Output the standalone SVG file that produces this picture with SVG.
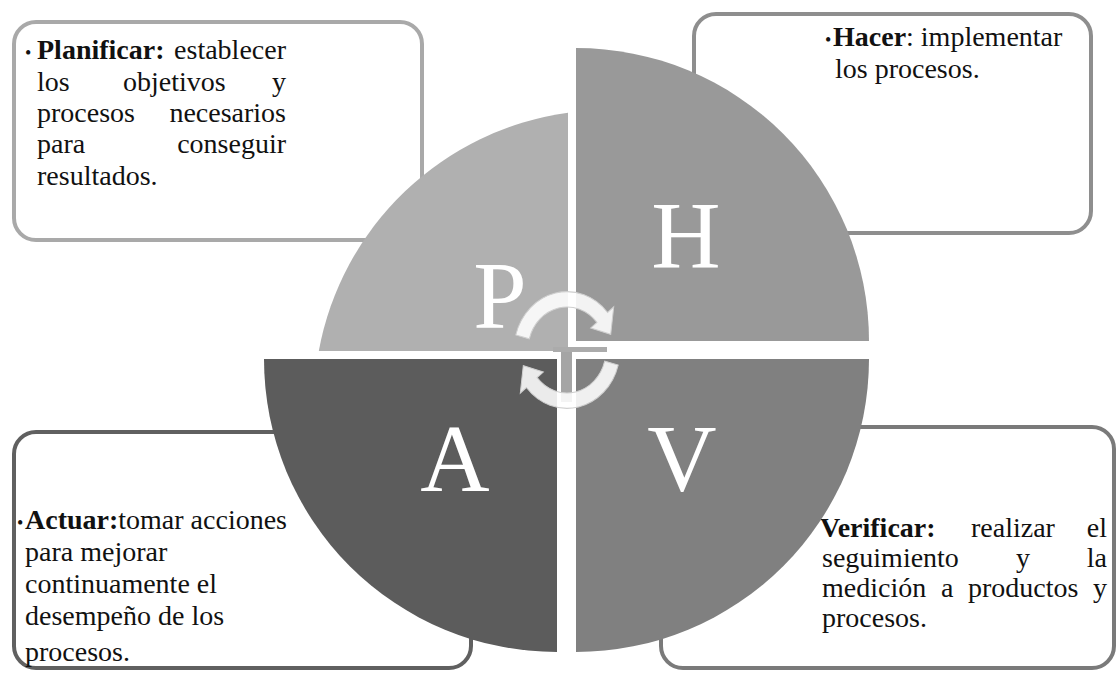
<svg xmlns="http://www.w3.org/2000/svg" width="1117" height="675" viewBox="0 0 1117 675">
<defs>
<style>
.box{fill:#fff;stroke-width:4}
.t{font-family:"Liberation Serif","Times New Roman",serif;font-size:28px;fill:#111}
.b{font-weight:bold}
.bul{font-size:18px}
.end{text-anchor:end}
.big{font-family:"Liberation Serif","Times New Roman",serif;font-size:96px;fill:#fff;text-anchor:middle}
.arr{fill:#fff;fill-opacity:0.88;stroke:#cfcfcf;stroke-width:1}
</style>
<path id="cyc" d="M -51.2 -13.7 A 53 53 0 0 1 40.6 -34.1 L 46.7 -39.2 L 43.7 -14.2 L 23.7 -19.9 L 29.9 -25.1 A 39 39 0 0 0 -37.7 -10.1 Z"/>
</defs>
<rect width="1117" height="675" fill="#fff"/>

<g id="node-planificar">
<rect class="box" x="14" y="22" width="408" height="218" rx="22" stroke="#a9a9a9"/>
<text class="t" y="59"><tspan x="25" class="bul">•</tspan><tspan x="37" class="b">Planificar:</tspan></text>
<text class="t end" x="286" y="59">establecer</text>
<text class="t" y="91"><tspan x="37">los</tspan><tspan x="123">objetivos</tspan></text>
<text class="t end" x="286" y="91">y</text>
<text class="t" x="37" y="122">procesos</text>
<text class="t end" x="286" y="122">necesarios</text>
<text class="t" x="37" y="153">para</text>
<text class="t end" x="286" y="153">conseguir</text>
<text class="t" x="37" y="185">resultados.</text>
</g>

<g id="node-hacer">
<rect class="box" x="694" y="14" width="397" height="219" rx="22" stroke="#8e8e8e"/>
<text class="t" y="46"><tspan x="825" class="bul">•</tspan><tspan x="833" class="b">Hacer</tspan><tspan>: implementar</tspan></text>
<text class="t" x="835" y="78">los procesos.</text>
</g>

<g id="node-actuar">
<rect class="box" x="14" y="432" width="457" height="236" rx="22" stroke="#606060"/>
<text class="t" y="529"><tspan x="17" class="bul">•</tspan><tspan x="25" class="b">Actuar:</tspan><tspan>tomar acciones</tspan></text>
<text class="t" x="25" y="561">para mejorar</text>
<text class="t" x="25" y="593">continuamente el</text>
<text class="t" x="25" y="625">desempeño de los</text>
<text class="t" x="25" y="661">procesos.</text>
</g>

<g id="node-verificar">
<rect class="box" x="661" y="427" width="453" height="241" rx="22" stroke="#7a7a7a"/>
<text class="t" y="537"><tspan x="820" class="b">Verificar:</tspan><tspan x="971">realizar</tspan></text>
<text class="t end" x="1107" y="537">el</text>
<text class="t" y="567"><tspan x="822">seguimiento</tspan><tspan x="1016">y</tspan></text>
<text class="t end" x="1107" y="567">la</text>
<text class="t" y="597"><tspan x="822">medición</tspan><tspan x="941">a</tspan><tspan x="968">productos</tspan></text>
<text class="t end" x="1107" y="597">y</text>
<text class="t" x="822" y="627">procesos.</text>
</g>

<g id="node-p">
<path d="M 568 351 L 318.8 351 A 294 294 0 0 1 568 112.7 Z" fill="#b0b0b0"/>
<text class="big" x="500" y="328">P</text>
</g>
<g id="node-h">
<path d="M 576 341 L 576 48 A 293 293 0 0 1 869 341 Z" fill="#999999"/>
<text class="big" x="686" y="268">H</text>
</g>
<g id="node-v">
<path d="M 576 359 L 869 359 A 293 293 0 0 1 576 652 Z" fill="#808080"/>
<text class="big" x="682" y="491">V</text>
</g>
<g id="node-a">
<path d="M 557 359 L 557 652 A 293 293 0 0 1 264 359 Z" fill="#5c5c5c"/>
<text class="big" x="455" y="491">A</text>
</g>

<g id="connectors">
<rect x="553" y="347" width="54" height="5" fill="#ababab"/>
<rect x="561" y="352" width="11" height="50" fill="#a5a5a5"/>
<g transform="translate(567 350) scale(1 1.1)">
<use href="#cyc" class="arr"/>
<use href="#cyc" class="arr" transform="rotate(180)"/>
</g>
</g>
</svg>
